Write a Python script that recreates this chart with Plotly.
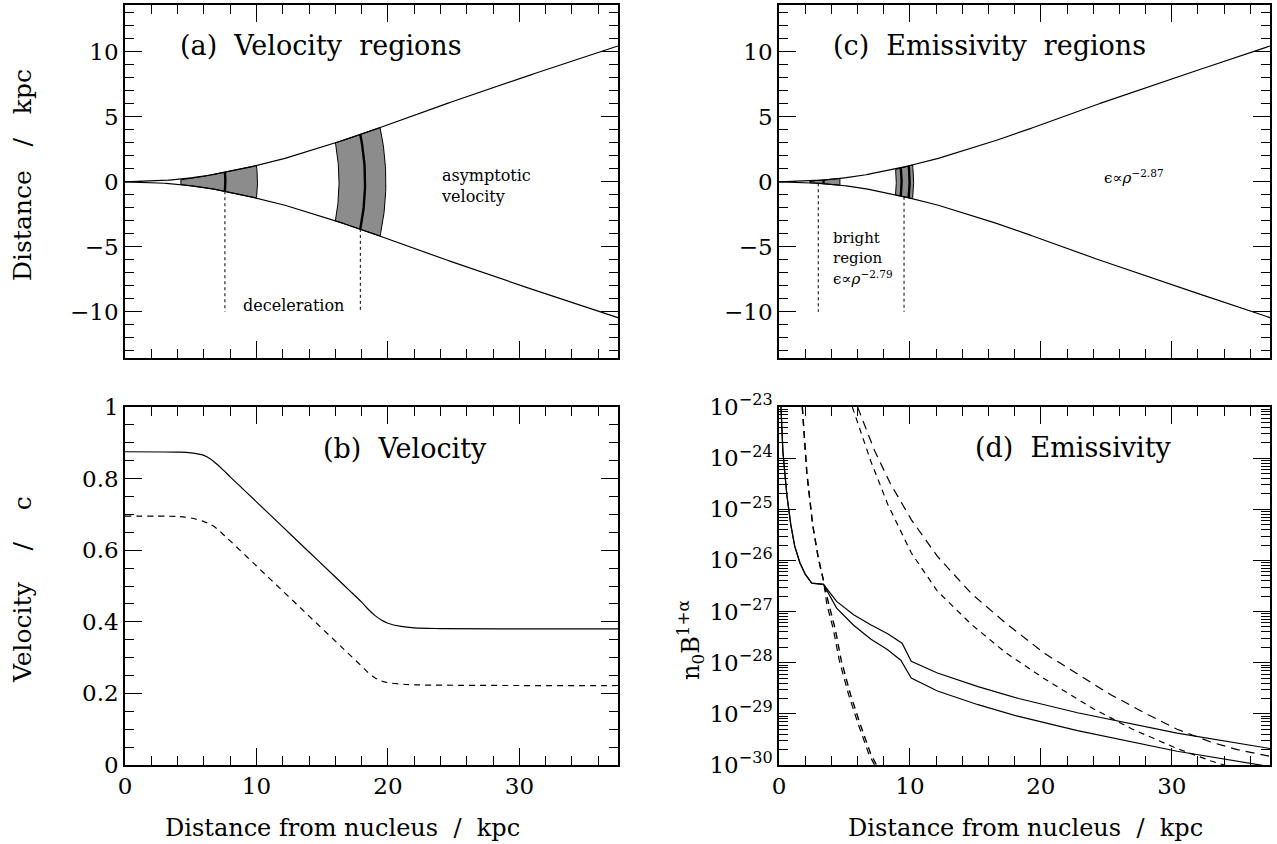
import numpy as np
import plotly.graph_objects as go
from plotly.subplots import make_subplots

# ---------------- data ----------------
# jet boundary (half-width, kpc) vs distance from nucleus (kpc)
bound_x = [0, 2, 4, 6, 8, 10, 12, 14, 16, 18, 20, 22, 24, 26, 28, 30, 32, 34, 36, 37.5]
bound_y = [0, 0.04, 0.18, 0.42, 0.8, 1.25, 1.75, 2.35, 3.0, 3.65, 4.4, 5.15, 5.85, 6.55,
           7.25, 7.95, 8.6, 9.25, 9.9, 10.45]

# panel (a) velocity regions
vel_shade = [(4.25, 10.0), (16.0, 19.4)]
vel_thick = [7.6, 17.9]
vel_dotted = [7.6, 17.9]

# panel (c) emissivity regions
emi_shade = [(2.35, 4.65), (8.9, 10.2)]
emi_thick = [3.4, 9.3, 9.9]
emi_dotted = [3.0, 9.55]
dotted_bottom = -10.0

# panel (b) velocity profiles
vel_x = [0, 4, 5, 6, 6.5, 7, 7.5, 8, 10, 12, 14, 16, 17, 18, 18.5, 19, 19.5, 20, 21, 22, 24, 30, 37.5]
vel_solid = [0.875, 0.874, 0.872, 0.865, 0.855, 0.84, 0.823, 0.805, 0.735, 0.665, 0.595, 0.525,
             0.49, 0.455, 0.435, 0.418, 0.405, 0.396, 0.387, 0.383, 0.381, 0.38, 0.38]
vel_dashed = [0.695, 0.694, 0.69, 0.68, 0.672, 0.66, 0.643, 0.626, 0.556, 0.486, 0.416, 0.346,
              0.311, 0.276, 0.258, 0.244, 0.235, 0.23, 0.226, 0.224, 0.223, 0.222, 0.222]

# panel (d) emissivity  n0 B^(1+alpha)
em_s1_x = [0.15, 0.3, 0.6, 0.9, 1.2, 1.6, 2.0, 2.5, 3.4, 4.4, 5.7, 7.0, 8.3, 9.4, 10.1, 12.1,
           15.2, 18.3, 22.8, 30.4, 37.5]
em_s1_y = [1e-23, 1.3e-24, 1.9e-25, 5.0e-26, 1.9e-26, 8.9e-27, 5.4e-27, 3.6e-27, 3.4e-27,
           1.58e-27, 8.7e-28, 5.5e-28, 3.7e-28, 2.4e-28, 1.07e-28, 6.3e-29, 3.4e-29, 2.0e-29,
           1.05e-29, 4.2e-30, 2.1e-30]
em_s2_x = [0.15, 0.3, 0.6, 0.9, 1.2, 1.6, 2.0, 2.5, 3.4, 4.4, 5.7, 7.0, 8.3, 9.3, 10.1, 12.1,
           15.2, 18.3, 22.8, 30.4, 37.5]
em_s2_y = [1e-23, 1.3e-24, 1.9e-25, 5.0e-26, 1.9e-26, 8.9e-27, 5.4e-27, 3.6e-27, 3.4e-27,
           1.17e-27, 5.4e-28, 2.9e-28, 1.8e-28, 1.12e-28, 5.0e-29, 2.8e-29, 1.51e-29, 8.9e-30,
           4.7e-30, 1.86e-30, 9.3e-31]
em_d1_x = [1.78, 2.13, 2.57, 3.0, 3.4, 3.8, 4.3, 4.75, 5.46, 6.2, 7.0, 7.55]
em_d1_y = [1e-23, 5.0e-25, 5.0e-26, 1.12e-26, 4.0e-27, 1.4e-27, 4.5e-28, 1.12e-28, 2.4e-29,
           6.3e-30, 1.66e-30, 8.9e-31]
em_d2_x = [1.78, 2.13, 2.57, 3.0, 3.4, 3.65, 4.15, 4.6, 5.31, 6.05, 6.85, 7.4]
em_d2_y = [1e-23, 5.0e-25, 5.0e-26, 1.12e-26, 4.0e-27, 1.4e-27, 4.5e-28, 1.12e-28, 2.4e-29,
           6.3e-30, 1.66e-30, 8.9e-31]
em_d3_x = [6.0, 7.3, 8.5, 10.1, 12.1, 14.7, 17.3, 20.3, 25.3, 28, 30.4, 33, 35, 37.5]
em_d3_y = [1e-23, 1.4e-24, 3.2e-25, 6.3e-26, 1.2e-26, 2.24e-27, 6.0e-28, 1.51e-28, 2.4e-29,
           1.02e-29, 5.0e-30, 2.8e-30, 2.0e-30, 1.48e-30]
em_d4_x = [5.6, 7.0, 8.3, 10.1, 12.1, 14.7, 17.3, 20.3, 24, 27, 30.4, 33, 35]
em_d4_y = [1e-23, 8.9e-25, 1.26e-25, 1.41e-26, 2.5e-27, 5.6e-28, 1.58e-28, 4.8e-29, 1.26e-29,
           5.0e-30, 2.1e-30, 1.2e-30, 8.3e-31]

x_ticks = [0, 10, 20, 30]
ya_ticks = [-10, -5, 0, 5, 10]
yb_ticks = [0, 0.2, 0.4, 0.6, 0.8, 1]
yd_exps = [-30, -29, -28, -27, -26, -25, -24, -23]

# ---------------- figure ----------------
FONT = "DejaVu Serif"
W, H = 1277, 844
fig = make_subplots(rows=2, cols=2)

bx = np.array(bound_x, float)
by = np.array(bound_y, float)
xx = np.linspace(0, bx[-1], 300)
hh = np.interp(xx, bx, by)


def h(x):
    return float(np.interp(x, bx, by))


def arc(x0, n=40):
    h0 = h(x0)
    R = np.hypot(x0, h0)
    ys = np.linspace(-h0, h0, n)
    return np.sqrt(R ** 2 - ys ** 2), ys


def region_poly(x1, x2):
    seg = np.linspace(x1, x2, 60)
    lower = -np.interp(seg, bx, by)
    upper = np.interp(seg, bx, by)
    ax2, ay2 = arc(x2)
    ax1, ay1 = arc(x1)
    px = np.concatenate([seg, ax2, seg[::-1], ax1[::-1]])
    py = np.concatenate([lower, ay2, upper[::-1], ay1[::-1]])
    return px, py


def draw_regions(row, col, shades, thicks, dots):
    for (x1, x2) in shades:
        px, py = region_poly(x1, x2)
        fig.add_trace(go.Scatter(x=px, y=py, mode="lines", fill="toself",
                                 fillcolor="#8c8c8c", line=dict(color="black", width=1),
                                 hoverinfo="skip", showlegend=False), row=row, col=col)
    for xt in thicks:
        ax_, ay_ = arc(xt)
        fig.add_trace(go.Scatter(x=ax_, y=ay_, mode="lines", line=dict(color="black", width=2.4),
                                 hoverinfo="skip", showlegend=False), row=row, col=col)
    for xd in dots:
        fig.add_trace(go.Scatter(x=[xd, xd], y=[-h(xd), dotted_bottom], mode="lines",
                                 line=dict(color="black", width=1, dash="dot"),
                                 hoverinfo="skip", showlegend=False), row=row, col=col)
    for sgn in (1, -1):
        fig.add_trace(go.Scatter(x=xx, y=sgn * hh, mode="lines", line=dict(color="black", width=1.2),
                                 hoverinfo="skip", showlegend=False), row=row, col=col)


draw_regions(1, 1, vel_shade, vel_thick, vel_dotted)
draw_regions(1, 2, emi_shade, emi_thick, emi_dotted)

# panel (b)
fig.add_trace(go.Scatter(x=vel_x, y=vel_solid, mode="lines", line=dict(color="black", width=1.2),
                         line_shape="spline", showlegend=False), row=2, col=1)
fig.add_trace(go.Scatter(x=vel_x, y=vel_dashed, mode="lines", line_shape="spline",
                         line=dict(color="black", width=1.2, dash="6px,5px"), showlegend=False),
              row=2, col=1)

# panel (d)
for xs, ys, dash, w in [(em_s1_x, em_s1_y, "solid", 1.2),
                        (em_s2_x, em_s2_y, "solid", 1.2),
                        (em_d1_x, em_d1_y, "7px,5px", 1.4),
                        (em_d2_x, em_d2_y, "7px,5px", 1.2),
                        (em_d3_x, em_d3_y, "9px,6px", 1.2),
                        (em_d4_x, em_d4_y, "6px,5px", 1.2)]:
    fig.add_trace(go.Scatter(x=xs, y=ys, mode="lines", line=dict(color="black", width=w, dash=dash),
                             showlegend=False), row=2, col=2)

# ---------------- axes ----------------
XR = [0, 37.5]
LEFT = [125 / W, 618 / W]
RIGHT = [779 / W, 1270 / W]
TOP = [1 - 358 / H, 1 - 5 / H]
BOT = [1 - 765 / H, 1 - 407 / H]

common = dict(showline=True, linecolor="black", linewidth=1.5, mirror="allticks",
              ticks="inside", ticklen=17, tickwidth=1, tickcolor="black", showgrid=False,
              zeroline=False, automargin=False,
              tickfont=dict(family=FONT, size=23, color="black"))
xminor = dict(ticks="inside", ticklen=9, tickwidth=1, tickcolor="black", dtick=2, showgrid=False)

fig.update_xaxes(range=XR, tickvals=x_ticks, minor=xminor, **common)
fig.update_xaxes(showticklabels=False, row=1)
fig.update_xaxes(domain=LEFT, col=1)
fig.update_xaxes(domain=RIGHT, col=2)
fig.update_yaxes(domain=TOP, row=1)
fig.update_yaxes(domain=BOT, row=2)

yminor_a = dict(ticks="inside", ticklen=9, tickwidth=1, tickcolor="black", dtick=1, showgrid=False)
fig.update_yaxes(range=[-13.55, 13.6], tickvals=ya_ticks, minor=yminor_a, **common, row=1, col=1)
fig.update_yaxes(range=[-13.55, 13.6], tickvals=ya_ticks, minor=yminor_a, **common, row=1, col=2)
fig.update_yaxes(range=[0, 1], tickvals=yb_ticks, ticktext=[str(v) for v in yb_ticks],
                 minor=dict(ticks="inside", ticklen=9, tickwidth=1, tickcolor="black", dtick=0.05,
                            showgrid=False), **common, row=2, col=1)

minor_log = [k * 10.0 ** e for e in yd_exps[:-1] for k in range(2, 10)]
fig.update_yaxes(type="log", range=[-30, -23], tickvals=[10.0 ** e for e in yd_exps],
                 ticktext=["10<sup>\u2212%d</sup>" % (-e) for e in yd_exps],
                 minor=dict(ticks="inside", ticklen=9, tickwidth=1, tickcolor="black",
                            tickvals=minor_log, showgrid=False),
                 **common, row=2, col=2)

# ---------------- annotations ----------------
ann = []
SP = "\u00a0"


def txt(text, x, y, xref, yref, size=16, xanchor="left", yanchor="middle", angle=0,
        family=FONT, align="left"):
    ann.append(dict(text=text, x=x, y=y, xref=xref, yref=yref, showarrow=False,
                    xanchor=xanchor, yanchor=yanchor, textangle=angle, align=align,
                    font=dict(family=family, size=size, color="black")))


txt("(a)" + SP * 2 + "Velocity" + SP * 2 + "regions", 4.0, 10.5, "x", "y", size=27)
txt("(c)" + SP * 2 + "Emissivity" + SP * 2 + "regions", 4.0, 10.5, "x2", "y2", size=27)
txt("(b)" + SP * 2 + "Velocity", 14.9, 0.885, "x3", "y3", size=27)
txt("(d)" + SP * 2 + "Emissivity", 14.85, -23.8, "x4", "y4", size=27)
txt("deceleration", 12.8, -9.55, "x", "y", size=16, xanchor="center", align="center")
txt("asymptotic<br>velocity", 23.9, -0.35, "x", "y", size=16)
txt("bright<br>region", 4.0, -5.1, "x2", "y2", size=15)
txt("\u03f5\u221d<i>\u03c1</i><sup>\u22122.79</sup>", 4.0, -7.4, "x2", "y2", size=15)
txt("\u03f5\u221d<i>\u03c1</i><sup>\u22122.87</sup>", 24.7, 0.4, "x2", "y2", size=15)

# axis titles (paper coords)
gap = SP * 3 + "/" + SP * 3
txt("Distance" + gap + "kpc", 22 / W, 1 - 175 / H, "paper", "paper", size=25, xanchor="center",
    angle=-90, align="center")
vgap = SP * 4 + "/" + SP * 4
txt("Velocity" + vgap + "c", 22 / W, 1 - 590 / H, "paper", "paper", size=25, xanchor="center",
    angle=-90, align="center")
bgap = SP * 2 + "/" + SP * 2
txt("Distance from nucleus" + bgap + "kpc", 342 / W, 1 - 828 / H, "paper", "paper", size=24,
    xanchor="center", align="center")
txt("Distance from nucleus" + bgap + "kpc", 1025 / W, 1 - 828 / H, "paper", "paper", size=24,
    xanchor="center", align="center")
txt("n<sub>0</sub>B<sup>1+\u03b1</sup>", 690 / W, 1 - 640 / H, "paper", "paper", size=24,
    xanchor="center", angle=-90, align="center")

fig.update_layout(template="none", width=W, height=H, margin=dict(l=0, r=0, t=0, b=0),
                  paper_bgcolor="white", plot_bgcolor="white", annotations=ann,
                  font=dict(family=FONT, color="black"), hovermode=False)

fig.write_html("out.html", config={"displayModeBar": False},
               post_script="document.body.style.margin='0px';"
                           "document.body.style.overflow='hidden';")
